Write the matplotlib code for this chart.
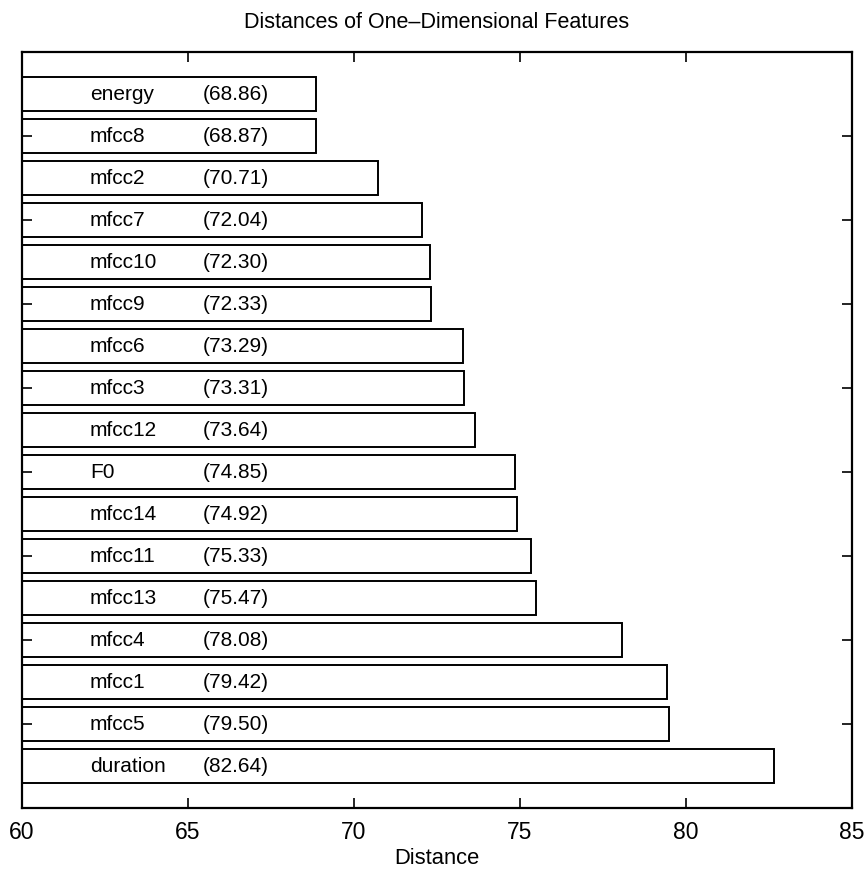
import matplotlib
matplotlib.use("Agg")
import matplotlib.pyplot as plt

features = ["energy", "mfcc8", "mfcc2", "mfcc7", "mfcc10", "mfcc9", "mfcc6",
            "mfcc3", "mfcc12", "F0", "mfcc14", "mfcc11", "mfcc13", "mfcc4",
            "mfcc1", "mfcc5", "duration"]
distances = [68.86, 68.87, 70.71, 72.04, 72.30, 72.33, 73.29, 73.31, 73.64,
             74.85, 74.92, 75.33, 75.47, 78.08, 79.42, 79.50, 82.64]
x_ticks = [60, 65, 70, 75, 80, 85]

plt.rcParams["font.family"] = ["Liberation Sans", "DejaVu Sans"]

fig = plt.figure(figsize=(8.66, 8.74), dpi=100)
ax = fig.add_axes([0.0254, 0.0755, 0.9584, 0.865])

x0 = 60
n = len(features)
ypos = list(range(1, n + 1))
ax.barh(ypos, [d - x0 for d in distances], left=x0, height=0.8,
        color="white", edgecolor="black", linewidth=1.4)

for y, name, d in zip(ypos, features, distances):
    ax.text(62.05, y, name, ha="left", va="center", fontsize=15)
    ax.text(65.43, y, f"({d:.2f})", ha="left", va="center", fontsize=15)

ax.set_xlim(60, 85)
ax.set_ylim(n + 1, 0)
ax.set_xticks(x_ticks)
ax.set_xticklabels([str(t) for t in x_ticks], fontsize=16.5)
ax.set_yticks(list(range(2, n + 1, 2)))
ax.set_yticklabels([])
ax.tick_params(axis="both", direction="in", top=True, right=True,
               length=7, width=1.2)
ax.tick_params(axis="x", pad=9)
for s in ax.spines.values():
    s.set_linewidth(1.6)

ax.set_xlabel("Distance", fontsize=15.8, labelpad=3)
ax.set_title("Distances of One\u2013Dimensional Features", fontsize=15.5, pad=17)

fig.savefig("out.png", dpi=100)
